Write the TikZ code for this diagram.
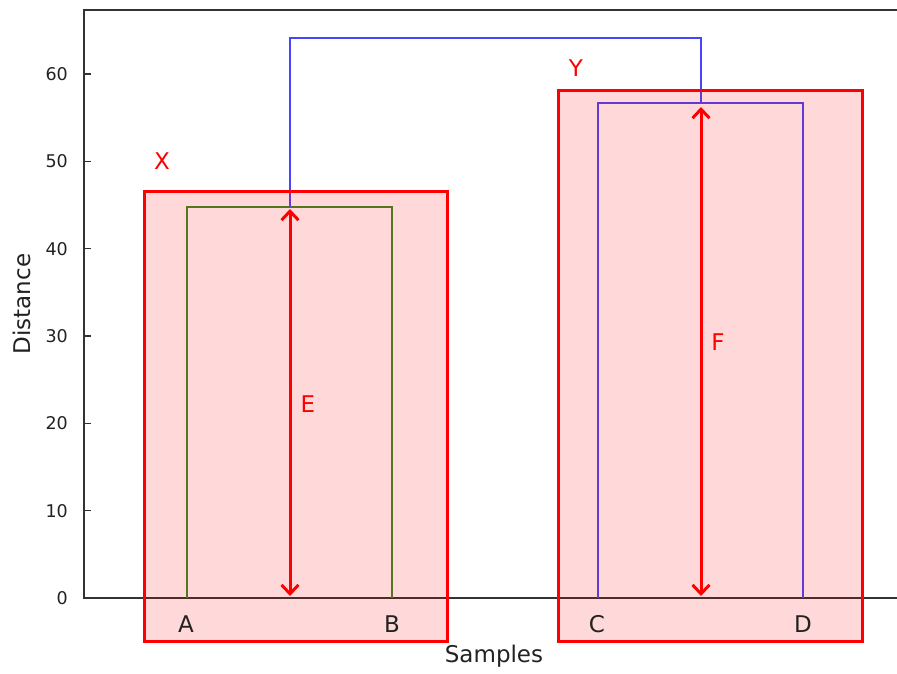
\documentclass[tikz,border=0pt]{standalone}
\usepackage{fontspec}
\setmainfont{DejaVu Sans}
\usetikzlibrary{arrows.meta}
\definecolor{axisgray}{HTML}{333333}
\definecolor{dgreen}{RGB}{55,140,35}
\definecolor{dblue}{RGB}{70,70,255}
\definecolor{txtdark}{HTML}{222222}
\tikzset{
  axisline/.style={draw=axisgray,line width=1.3pt},
  ticklab/.style={anchor=east,font=\fontsize{17.5}{19}\selectfont,text=txtdark,inner sep=0pt},
  leaflab/.style={font=\fontsize{23}{26}\selectfont,text=txtdark,inner sep=0pt},
  redlab/.style={font=\fontsize{23}{26}\selectfont,text=red,inner sep=0pt},
  gline/.style={draw=dgreen,line width=1.5pt},
  bline/.style={draw=dblue,line width=1.5pt},
  clusterbox/.style={draw=red,line width=3pt,fill=red,fill opacity=0.15},
  heightarrow/.style={draw=red,line width=3pt,{Straight Barb[length=9pt,width=17pt]}-{Straight Barb[length=9pt,width=17pt]}}
}
\begin{document}
\begin{tikzpicture}[x=1pt,y=-1pt]
\useasboundingbox (0,0) rectangle (897,673);
% axes
\coordinate (o) at (84,598);
\coordinate (tl) at (84,10);
\coordinate (tr) at (897,10);
\coordinate (br) at (897,598);
\draw[axisline] (tr) -- (tl) -- (o) -- (br);
\foreach \v/\yy in {0/598,10/510.7,20/423.3,30/336,40/248.7,50/161.3,60/74}{
  \draw[axisline] (84,\yy) -- (91,\yy);
  \node[ticklab] (t\v) at (68,\yy) {\v};
}
\node[leaflab,rotate=90] (ylab) at (22,304) {Distance};
\node[leaflab] (xlab) at (494,656) {Samples};
% dendrogram
\coordinate (a0) at (187,598); \coordinate (a1) at (187,207);
\coordinate (b0) at (392,598); \coordinate (b1) at (392,207);
\coordinate (ab) at (290,207);
\coordinate (c0) at (598,598); \coordinate (c1) at (598,103);
\coordinate (d0) at (803,598); \coordinate (d1) at (803,103);
\coordinate (cd) at (701,103);
\coordinate (abtop) at (290,38);
\coordinate (cdtop) at (701,38);
\draw[gline] (a0) -- (a1) -- (b1) -- (b0);
\draw[bline] (c0) -- (c1) -- (d1) -- (d0);
\draw[bline] (ab) -- (abtop) -- (cdtop) -- (cd);
% cluster boxes
\draw[clusterbox] (144,191) rectangle (447,641);
\draw[clusterbox] (558,90) rectangle (862,641);
% leaf labels
\node[leaflab] (A) at (186,624) {A};
\node[leaflab] (B) at (392,624) {B};
\node[leaflab] (C) at (597,624) {C};
\node[leaflab] (D) at (803,624) {D};
% height arrows
\coordinate (e0) at (290,596); \coordinate (e1) at (290,209);
\coordinate (f0) at (701,596); \coordinate (f1) at (701,107);
\draw[heightarrow] (e0) -- (e1);
\draw[heightarrow] (f0) -- (f1);
% red labels
\node[redlab] (X) at (162,161) {X};
\node[redlab] (Y) at (576,68) {Y};
\node[redlab] (E) at (308,404) {E};
\node[redlab] (F) at (718,342) {F};
\end{tikzpicture}
\end{document}
